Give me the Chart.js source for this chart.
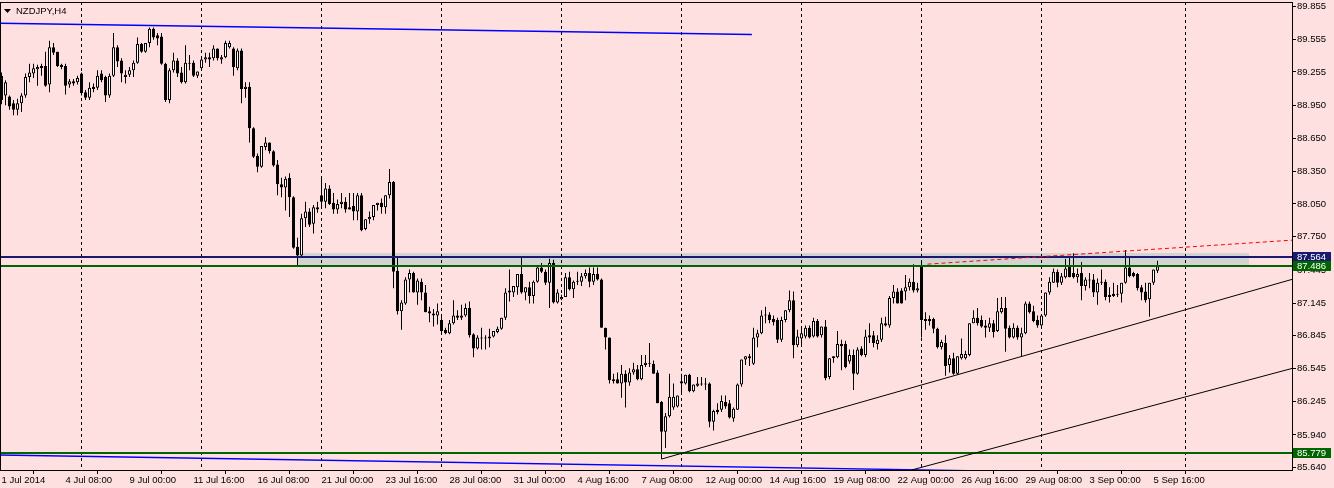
<!DOCTYPE html>
<html lang="en">
<head>
<meta charset="UTF-8">
<title>NZDJPY,H4</title>
<script src="https://cdn.jsdelivr.net/npm/chart.js"></script>
<style>
  html, body { margin: 0; padding: 0; background: #ffe0e0; overflow: hidden; }
  canvas { display: block; }
</style>
</head>
<body>
<canvas id="chart" width="1334" height="488" style="width:1334px;height:488px"></canvas>
<script>
// NZDJPY H4 candles, 1 Jul 2014 16:00 .. 5 Sep 2014 20:00 (index = bar number)
const opens = [
  89.22, 89.04, 89.03, 88.97, 88.91, 88.97, 89.04, 89.21, 89.24, 89.28,
  89.31, 89.31, 89.14, 89.48, 89.44, 89.32, 89.31, 89.14, 89.17, 89.16,
  89.24, 89.07, 89.02, 89.12, 89.11, 89.24, 89.21, 89.04, 89.22, 89.48,
  89.36, 89.21, 89.23, 89.27, 89.34, 89.51, 89.44, 89.52, 89.65, 89.59,
  89.58, 89.33, 89.00, 89.27, 89.36, 89.25, 89.16, 89.34, 89.34, 89.22,
  89.29, 89.37, 89.39, 89.38, 89.47, 89.37, 89.39, 89.48, 89.47, 89.29,
  89.45, 89.10, 89.12, 88.74, 88.49, 88.39, 88.57, 88.61, 88.53, 88.41,
  88.23, 88.20, 88.29, 88.11, 87.66, 87.58, 87.92, 87.98, 87.87, 88.02,
  88.13, 88.07, 88.19, 88.06, 88.00, 88.05, 88.07, 88.02, 88.03, 87.98,
  88.13, 87.82, 87.91, 87.93, 88.04, 88.06, 88.02, 88.13, 88.25, 87.44,
  87.07, 87.14, 87.36, 87.42, 87.24, 87.34, 87.24, 87.07, 87.05, 87.03,
  86.99, 86.90, 86.87, 86.96, 87.03, 87.01, 87.03, 87.10, 86.86, 86.73,
  86.83, 86.83, 86.82, 86.84, 86.88, 86.91, 87.01, 87.26, 87.24, 87.29,
  87.41, 87.24, 87.29, 87.21, 87.34, 87.47, 87.43, 87.33, 87.51, 87.15,
  87.18, 87.20, 87.38, 87.27, 87.34, 87.34, 87.39, 87.42, 87.34, 87.41,
  87.36, 86.92, 86.83, 86.45, 86.45, 86.41, 86.50, 86.42, 86.51, 86.54,
  86.45, 86.58, 86.60, 86.59, 86.51, 86.24, 85.97, 86.11, 86.19, 86.20,
  86.43, 86.41, 86.49, 86.34, 86.39, 86.41, 86.41, 86.41, 86.06, 86.17,
  86.17, 86.24, 86.23, 86.09, 86.17, 86.40, 86.63, 86.66, 86.59, 86.83,
  86.87, 87.03, 87.04, 87.00, 86.99, 86.81, 86.99, 87.08, 87.17, 86.76,
  86.82, 86.84, 86.92, 86.84, 86.98, 86.85, 86.93, 86.47, 86.64, 86.65,
  86.77, 86.77, 86.61, 86.67, 86.50, 86.73, 86.67, 86.85, 86.85, 86.77,
  86.81, 86.96, 86.94, 87.19, 87.25, 87.26, 87.25, 87.29, 87.34, 87.26,
  87.49, 87.00, 87.00, 87.00, 86.91, 86.74, 86.78, 86.58, 86.64, 86.50,
  86.64, 86.64, 86.67, 86.96, 87.01, 86.99, 86.94, 86.92, 86.96, 86.89,
  87.06, 87.10, 86.92, 86.83, 86.92, 86.83, 86.87, 87.14, 87.07, 86.99,
  86.94, 87.03, 87.24, 87.33, 87.43, 87.33, 87.38, 87.48, 87.42, 87.38,
  87.42, 87.30, 87.36, 87.36, 87.24, 87.33, 87.34, 87.22, 87.23, 87.22,
  87.23, 87.33, 87.47, 87.42, 87.41, 87.29, 87.25, 87.18, 87.33, 87.44
];
const highs = [
  89.25, 89.18, 89.04, 89.00, 89.01, 89.06, 89.24, 89.33, 89.33, 89.32,
  89.33, 89.44, 89.54, 89.52, 89.44, 89.33, 89.33, 89.19, 89.19, 89.22,
  89.25, 89.09, 89.16, 89.15, 89.27, 89.27, 89.22, 89.24, 89.61, 89.50,
  89.38, 89.27, 89.30, 89.36, 89.57, 89.52, 89.52, 89.66, 89.66, 89.61,
  89.61, 89.34, 89.29, 89.43, 89.38, 89.30, 89.50, 89.41, 89.36, 89.26,
  89.40, 89.43, 89.43, 89.50, 89.47, 89.41, 89.54, 89.54, 89.48, 89.47,
  89.47, 89.16, 89.16, 88.75, 88.51, 88.58, 88.66, 88.61, 88.54, 88.45,
  88.29, 88.30, 88.33, 88.12, 87.74, 87.96, 88.07, 88.01, 88.04, 88.07,
  88.30, 88.24, 88.22, 88.15, 88.09, 88.15, 88.11, 88.15, 88.15, 88.15,
  88.15, 87.91, 87.98, 88.04, 88.06, 88.10, 88.13, 88.37, 88.26, 87.56,
  87.17, 87.38, 87.45, 87.43, 87.37, 87.37, 87.31, 87.11, 87.09, 87.14,
  87.02, 86.92, 86.99, 87.17, 87.08, 87.13, 87.14, 87.16, 86.87, 86.85,
  86.92, 86.85, 86.91, 86.89, 86.93, 87.01, 87.28, 87.45, 87.30, 87.41,
  87.56, 87.29, 87.34, 87.35, 87.49, 87.51, 87.45, 87.55, 87.54, 87.27,
  87.22, 87.42, 87.43, 87.35, 87.43, 87.42, 87.45, 87.47, 87.47, 87.47,
  87.37, 86.92, 86.83, 86.50, 86.51, 86.58, 86.53, 86.55, 86.60, 86.58,
  86.67, 86.67, 86.78, 86.62, 86.53, 86.25, 86.14, 86.50, 86.41, 86.30,
  86.50, 86.49, 86.50, 86.40, 86.47, 86.47, 86.46, 86.42, 86.17, 86.23,
  86.30, 86.30, 86.26, 86.19, 86.41, 86.63, 86.66, 86.68, 86.92, 86.90,
  87.08, 87.11, 87.06, 87.03, 87.01, 87.02, 87.08, 87.26, 87.25, 86.90,
  86.92, 86.94, 86.94, 87.01, 87.00, 86.93, 86.99, 86.64, 86.66, 86.89,
  86.81, 86.80, 86.72, 86.72, 86.74, 86.75, 86.90, 86.96, 86.89, 86.85,
  87.01, 87.02, 87.21, 87.31, 87.28, 87.28, 87.40, 87.37, 87.50, 87.33,
  87.51, 87.06, 87.03, 87.01, 86.92, 86.81, 86.85, 86.67, 86.69, 86.66,
  86.82, 86.71, 86.96, 87.08, 87.10, 87.03, 86.99, 87.01, 86.99, 87.19,
  87.20, 87.20, 86.94, 86.96, 86.94, 86.92, 87.16, 87.16, 87.12, 87.03,
  87.04, 87.24, 87.38, 87.46, 87.45, 87.42, 87.55, 87.56, 87.60, 87.46,
  87.52, 87.38, 87.42, 87.41, 87.37, 87.45, 87.36, 87.29, 87.33, 87.31,
  87.33, 87.63, 87.56, 87.43, 87.42, 87.31, 87.33, 87.33, 87.45, 87.53
];
const lows = [
  88.96, 88.95, 88.91, 88.86, 88.86, 88.89, 89.02, 89.16, 89.20, 89.13,
  89.22, 89.12, 89.07, 89.41, 89.30, 89.28, 89.05, 89.11, 89.13, 89.14,
  89.04, 89.00, 89.00, 89.07, 89.09, 89.16, 88.98, 89.02, 89.21, 89.30,
  89.16, 89.15, 89.21, 89.21, 89.33, 89.43, 89.43, 89.48, 89.55, 89.50,
  89.32, 88.98, 88.97, 89.25, 89.21, 89.15, 89.15, 89.27, 89.21, 89.20,
  89.28, 89.34, 89.30, 89.36, 89.36, 89.33, 89.38, 89.47, 89.22, 89.27,
  88.97, 89.02, 88.61, 88.47, 88.34, 88.38, 88.54, 88.51, 88.39, 88.13,
  88.11, 87.99, 87.93, 87.64, 87.49, 87.56, 87.84, 87.84, 87.78, 87.97,
  88.01, 88.01, 88.04, 87.96, 87.96, 88.01, 87.97, 88.00, 87.90, 87.90,
  87.80, 87.81, 87.87, 87.90, 87.99, 87.96, 87.96, 88.10, 87.28, 87.04,
  86.90, 87.13, 87.24, 87.24, 87.13, 87.17, 87.06, 86.97, 86.93, 86.95,
  86.88, 86.86, 86.86, 86.95, 86.99, 86.99, 87.02, 86.83, 86.65, 86.72,
  86.72, 86.72, 86.74, 86.83, 86.87, 86.90, 86.99, 87.16, 87.20, 87.22,
  87.23, 87.17, 87.14, 87.14, 87.33, 87.42, 87.31, 87.10, 87.14, 87.14,
  87.17, 87.20, 87.26, 87.19, 87.31, 87.30, 87.37, 87.29, 87.31, 87.35,
  86.92, 86.72, 86.41, 86.41, 86.41, 86.28, 86.19, 86.39, 86.49, 86.44,
  86.44, 86.56, 86.56, 86.50, 86.23, 85.72, 85.82, 86.10, 86.17, 86.19,
  86.32, 86.40, 86.33, 86.33, 86.38, 86.39, 86.35, 86.01, 85.98, 86.13,
  86.15, 86.18, 86.09, 86.06, 86.17, 86.38, 86.58, 86.57, 86.58, 86.74,
  86.86, 86.96, 86.96, 86.94, 86.78, 86.79, 86.97, 87.06, 86.64, 86.74,
  86.76, 86.82, 86.82, 86.83, 86.83, 86.83, 86.44, 86.45, 86.60, 86.64,
  86.53, 86.55, 86.59, 86.35, 86.49, 86.66, 86.65, 86.78, 86.74, 86.72,
  86.79, 86.93, 86.92, 87.14, 87.14, 87.14, 87.17, 87.26, 87.24, 87.24,
  86.83, 86.90, 86.94, 86.87, 86.73, 86.72, 86.48, 86.51, 86.49, 86.49,
  86.63, 86.63, 86.66, 86.96, 86.94, 86.92, 86.83, 86.88, 86.83, 86.88,
  87.05, 86.70, 86.82, 86.82, 86.81, 86.66, 86.86, 87.05, 86.97, 86.92,
  86.93, 87.02, 87.22, 87.33, 87.29, 87.31, 87.37, 87.38, 87.37, 87.33,
  87.17, 87.26, 87.28, 87.20, 87.13, 87.31, 87.17, 87.15, 87.20, 87.20,
  87.15, 87.32, 87.38, 87.38, 87.26, 87.17, 87.15, 87.02, 87.31, 87.42
];
const closes = [
  89.00, 89.16, 88.94, 88.91, 88.97, 89.04, 89.21, 89.25, 89.29, 89.30,
  89.29, 89.13, 89.48, 89.43, 89.31, 89.30, 89.13, 89.17, 89.15, 89.20,
  89.06, 89.02, 89.11, 89.10, 89.22, 89.18, 89.04, 89.22, 89.48, 89.35,
  89.24, 89.23, 89.27, 89.34, 89.51, 89.44, 89.52, 89.65, 89.57, 89.56,
  89.33, 89.00, 89.27, 89.36, 89.24, 89.16, 89.34, 89.33, 89.22, 89.26,
  89.37, 89.39, 89.37, 89.47, 89.38, 89.39, 89.52, 89.52, 89.30, 89.45,
  89.10, 89.12, 88.74, 88.48, 88.39, 88.58, 88.61, 88.53, 88.40, 88.23,
  88.20, 88.28, 88.11, 87.65, 87.58, 87.92, 87.98, 87.86, 88.02, 88.00,
  88.07, 88.19, 88.05, 88.00, 88.05, 88.07, 88.00, 88.00, 87.98, 88.13,
  87.81, 87.91, 87.93, 88.04, 88.06, 88.02, 88.13, 88.25, 87.43, 87.07,
  87.15, 87.36, 87.42, 87.24, 87.35, 87.24, 87.06, 87.05, 87.03, 87.07,
  86.89, 86.87, 86.96, 87.03, 87.01, 87.03, 87.10, 86.85, 86.73, 86.83,
  86.82, 86.82, 86.84, 86.89, 86.91, 87.01, 87.24, 87.24, 87.30, 87.41,
  87.24, 87.29, 87.21, 87.34, 87.47, 87.43, 87.33, 87.51, 87.15, 87.24,
  87.20, 87.38, 87.27, 87.34, 87.34, 87.39, 87.42, 87.34, 87.41, 87.36,
  86.92, 86.83, 86.44, 86.43, 86.41, 86.50, 86.42, 86.51, 86.54, 86.45,
  86.58, 86.60, 86.59, 86.50, 86.23, 85.97, 86.11, 86.29, 86.29, 86.30,
  86.41, 86.49, 86.34, 86.40, 86.41, 86.40, 86.40, 86.06, 86.16, 86.15,
  86.25, 86.20, 86.10, 86.18, 86.40, 86.63, 86.66, 86.64, 86.83, 86.87,
  87.03, 87.04, 86.99, 86.97, 86.81, 86.99, 87.08, 87.17, 86.76, 86.84,
  86.87, 86.92, 86.83, 86.98, 86.84, 86.93, 86.46, 86.64, 86.66, 86.77,
  86.75, 86.56, 86.67, 86.50, 86.72, 86.67, 86.84, 86.83, 86.78, 86.81,
  86.96, 86.94, 87.19, 87.25, 87.14, 87.14, 87.29, 87.34, 87.26, 87.28,
  86.99, 86.98, 86.98, 86.91, 86.74, 86.79, 86.57, 86.64, 86.50, 86.66,
  86.68, 86.68, 86.96, 87.01, 86.96, 86.93, 86.92, 86.96, 86.88, 87.07,
  87.10, 86.91, 86.83, 86.92, 86.83, 86.87, 87.14, 87.06, 86.98, 86.94,
  87.03, 87.24, 87.34, 87.43, 87.33, 87.39, 87.46, 87.38, 87.38, 87.41,
  87.30, 87.36, 87.35, 87.24, 87.33, 87.34, 87.20, 87.20, 87.21, 87.23,
  87.33, 87.47, 87.39, 87.39, 87.28, 87.24, 87.17, 87.33, 87.45, 87.48
];

// time axis labels, one every 16 bars
const timeTickBars = [0, 16, 32, 48, 64, 80, 96, 112, 128, 144, 160, 176, 192, 208, 224, 240, 256, 272, 288];
const timeLabels = ['1 Jul 2014', '4 Jul 08:00', '9 Jul 00:00', '11 Jul 16:00', '16 Jul 08:00', '21 Jul 00:00',
  '23 Jul 16:00', '28 Jul 08:00', '31 Jul 00:00', '4 Aug 16:00', '7 Aug 08:00', '12 Aug 00:00',
  '14 Aug 16:00', '19 Aug 08:00', '22 Aug 00:00', '26 Aug 16:00', '29 Aug 08:00', '3 Sep 00:00', '5 Sep 16:00'];
const priceTicks = [89.855, 89.555, 89.255, 88.950, 88.650, 88.350, 88.050, 87.750, 87.445,
  87.145, 86.845, 86.545, 86.245, 85.940, 85.640];

// weekly separators (bar numbers)
const weekSeparators = [20, 50, 80, 110, 140, 170, 200, 230, 260, 296];

// horizontal levels
const levelPrices = [87.564, 87.486, 85.779];
// shaded zone [fromBar, toBar, lowPrice, highPrice]
const zone = [74, 311.75, 87.486, 87.60];
// trend lines [[bar, price], [bar, price]]
const channelTop = [[-0.375, 89.70], [187.6, 89.597]];
const channelBottom = [[-0.375, 85.757], [241.6, 85.614]];
const supportA = [[165, 85.72], [287, 86.99]];
const supportB = [[227.5, 85.62], [322.875, 86.55]];
const resistance = [[231.5, 87.50], [281, 87.619]];

const BG = '#ffe0e0';
const FONT = 'Liberation Sans';
const FSIZE = 9.5;
const levelColors = ['#191970', '#006400', '#006400'];

const wickData = highs.map((h, i) => ({ x: i, y: [lows[i], h] }));
const bodyData = opens.map((o, i) => ({ x: i, y: [Math.min(o, closes[i]), Math.max(o, closes[i])] }));

const mt4 = {
  id: 'mt4',
  beforeDraw(chart) {
    const { ctx, width, height } = chart;
    ctx.save();
    ctx.fillStyle = BG;
    ctx.fillRect(0, 0, width, height);
    ctx.restore();
  },
  beforeDatasetsDraw(chart) {
    const { ctx, chartArea: a, scales: { x, y } } = chart;
    ctx.save();
    ctx.beginPath();
    ctx.rect(a.left, a.top, a.right - a.left, a.bottom - a.top);
    ctx.clip();
    // zone
    const x0 = Math.round(x.getPixelForValue(zone[0]));
    const x1 = Math.round(x.getPixelForValue(zone[1]));
    const y0 = Math.round(y.getPixelForValue(zone[3]));
    const y1 = Math.round(y.getPixelForValue(zone[2]));
    ctx.fillStyle = '#d3d3d3';
    ctx.fillRect(x0, y0, x1 - x0, y1 - y0);
    // separators
    ctx.strokeStyle = '#000';
    ctx.lineWidth = 1;
    ctx.setLineDash([3, 3]);
    weekSeparators.forEach(b => {
      const xx = Math.floor(x.getPixelForValue(b)) + 0.5;
      ctx.beginPath();
      ctx.moveTo(xx, a.top);
      ctx.lineTo(xx, a.bottom);
      ctx.stroke();
    });
    ctx.restore();
  },
  afterDatasetsDraw(chart) {
    const { ctx, chartArea: a, scales: { x, y } } = chart;
    ctx.save();
    ctx.beginPath();
    ctx.rect(a.left, a.top, a.right - a.left, a.bottom - a.top);
    ctx.clip();

    // horizontal levels
    levelPrices.forEach((p, k) => {
      const yy = Math.round(y.getPixelForValue(p));
      ctx.strokeStyle = levelColors[k];
      ctx.lineWidth = 2;
      ctx.beginPath();
      ctx.moveTo(a.left, yy);
      ctx.lineTo(a.right, yy);
      ctx.stroke();
    });

    const seg = (pts, color, width, dash, ray) => {
      let [[b0, p0], [b1, p1]] = pts;
      if (ray) {
        const end = x.max;
        p1 = p0 + (p1 - p0) * (end - b0) / (b1 - b0);
        b1 = end;
      }
      ctx.strokeStyle = color;
      ctx.lineWidth = width;
      ctx.setLineDash(dash);
      ctx.beginPath();
      ctx.moveTo(x.getPixelForValue(b0), y.getPixelForValue(p0));
      ctx.lineTo(x.getPixelForValue(b1), y.getPixelForValue(p1));
      ctx.stroke();
    };
    seg(channelTop, '#0000ff', 1.4, [], false);
    seg(channelBottom, '#0000ff', 1.4, [], false);
    seg(supportA, '#000', 1, [], true);
    seg(supportB, '#000', 1, [], false);
    seg(resistance, '#ff0000', 1, [4, 3], true);
    ctx.restore();
  },
  afterDraw(chart) {
    const { ctx, chartArea: a, scales: { y } } = chart;
    ctx.save();
    // frame
    ctx.strokeStyle = '#000';
    ctx.lineWidth = 1;
    ctx.strokeRect(a.left + 0.5, a.top + 0.5, a.right - a.left - 1, a.bottom - a.top - 1);

    // price boxes on the axis
    ctx.font = FSIZE + 'px "' + FONT + '"';
    ctx.textBaseline = 'middle';
    ctx.textAlign = 'left';
    levelPrices.forEach((p, k) => {
      const yy = Math.round(y.getPixelForValue(p));
      ctx.fillStyle = levelColors[k];
      ctx.fillRect(a.right, yy - 5, 38, 10);
      ctx.fillStyle = '#fff';
      ctx.fillText(p.toFixed(3), a.right + 4, yy + 0.5);
    });

    // title
    ctx.fillStyle = '#000';
    ctx.beginPath();
    ctx.moveTo(4, 9);
    ctx.lineTo(11, 9);
    ctx.lineTo(7.5, 13);
    ctx.closePath();
    ctx.fill();
    ctx.fillText('NZDJPY,H4', 16, 11);
    ctx.restore();
  }
};

new Chart(document.getElementById('chart'), {
  type: 'bar',
  data: {
    datasets: [
      {
        label: 'wick',
        data: wickData,
        backgroundColor: '#000',
        barThickness: 1,
        maxBarThickness: 1,
        grouped: false,
        inflateAmount: 0,
        order: 2
      },
      {
        label: 'body',
        data: bodyData,
        backgroundColor: c => closes[c.dataIndex] >= opens[c.dataIndex] ? '#fff' : '#000',
        borderColor: '#000',
        borderWidth: 1,
        borderSkipped: false,
        barThickness: 3,
        maxBarThickness: 3,
        minBarLength: 1,
        grouped: false,
        inflateAmount: 0,
        order: 1
      }
    ]
  },
  options: {
    responsive: false,
    animation: false,
    events: [],
    layout: { padding: { left: 0, top: 2, right: 0, bottom: 0 } },
    plugins: { legend: { display: false }, tooltip: { enabled: false } },
    scales: {
      x: {
        type: 'linear',
        min: -0.375,
        max: 322.875,
        offset: false,
        border: { display: false },
        grid: { drawOnChartArea: false, drawTicks: true, tickLength: 3, color: '#000' },
        ticks: {
          autoSkip: false, maxRotation: 0, minRotation: 0, align: 'start', padding: 1,
          color: '#000', font: { family: FONT, size: FSIZE },
          callback: (v, i) => timeLabels[i]
        },
        afterBuildTicks: s => { s.ticks = timeTickBars.map(v => ({ value: v })); },
        afterFit: s => { s.height = 17; s.paddingLeft = 0; s.paddingRight = 0; }
      },
      y: {
        position: 'right',
        min: 85.611,
        max: 89.894,
        border: { display: false },
        grid: { drawOnChartArea: false, drawTicks: true, tickLength: 3, color: '#000' },
        ticks: {
          autoSkip: false, padding: 1, color: '#000',
          font: { family: FONT, size: FSIZE },
          callback: v => v.toFixed(3)
        },
        afterBuildTicks: s => { s.ticks = priceTicks.map(v => ({ value: v })); },
        afterFit: s => { s.width = 41; s.paddingTop = 0; s.paddingBottom = 0; }
      }
    }
  },
  plugins: [mt4]
});
</script>
</body>
</html>
